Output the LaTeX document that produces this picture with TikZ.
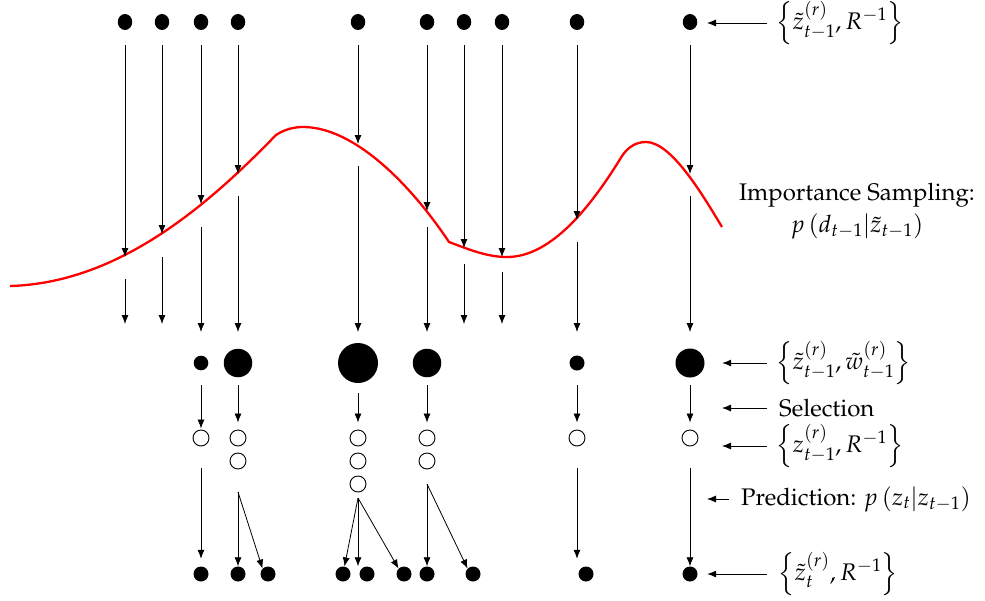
\documentclass[tikz,border=0pt]{standalone}
\usepackage[T1]{fontenc}
\usepackage{mathpazo}
\usetikzlibrary{arrows.meta,shapes.geometric}
\begin{document}
\begin{tikzpicture}[x=1pt,y=-1pt,
  every node/.style={font=\fontsize{24}{29}\selectfont},
  tdot/.style={ellipse,fill=black,inner sep=0pt,minimum width=14.5pt,minimum height=16pt},
  dot/.style={circle,fill=black,inner sep=0pt,minimum size=#1},
  dot/.default=15pt,
  odot/.style={circle,draw=black,line width=0.9pt,fill=white,inner sep=0pt,minimum size=16pt},
  arr/.style={-{Latex[length=9pt,width=7pt]},line width=0.8pt},
  lbl/.style={anchor=west,inner sep=0pt},
  pdf/.style={red,line width=2.3pt,line join=round}
]
\useasboundingbox (0,0) rectangle (985,600);

% red likelihood curve
\draw[pdf] (10,286) .. controls (120,283) and (210,203) .. (276,135)
  .. controls (285,129) and (295,127) .. (303,127)
  .. controls (353,127) and (409,182) .. (449,242)
  .. controls (469,249.5) and (487,257) .. (507,257)
  .. controls (552,257) and (592,205) .. (622,156)
  .. controls (628,147) and (636,142) .. (646,142)
  .. controls (671,142) and (702,193.6) .. (722,227);

% top particles
\foreach \i/\x in {1/125,2/162,3/201,4/238,5/358,6/427,7/464,8/502,9/577,10/690}
  \node[tdot] (t\i) at (\x,22) {};

% arrow end points on / below the curve
\foreach \i/\x/\cy/\uy/\ey in {1/125/257/279/324, 2/162/234/257/324, 3/201/204/227/332, 4/238/174/196/332,
  5/358/144/166/332, 6/427/211/227/332, 7/464/248/264/324, 8/502/257/272/324, 9/577/220/242/332, 10/690/174/196/332}{
  \coordinate (c\i) at (\x,\cy);
  \coordinate (u\i) at (\x,\uy);
  \coordinate (e\i) at (\x,\ey);
  \draw[arr,shorten <=15pt] (t\i) -- (c\i);
  \draw[arr] (u\i) -- (e\i);
}

% weighted particles
\node[dot=14.6pt] (m3) at (201,363) {};
\node[dot=28.5pt] (m4) at (238,363) {};
\node[dot=40pt] (m5) at (358,363) {};
\node[dot=28.5pt] (m6) at (427,363) {};
\node[dot=15pt] (m9) at (577,363) {};
\node[dot=29pt] (m10) at (690,363) {};

% selected particles
\node[odot] (o3a) at (201,438) {};
\node[odot] (o4a) at (238,438) {};
\node[odot] (o4b) at (238,461) {};
\node[odot] (o5a) at (358,438) {};
\node[odot] (o5b) at (358,461) {};
\node[odot] (o5c) at (358,484) {};
\node[odot] (o6a) at (427,438) {};
\node[odot] (o6b) at (427,461) {};
\node[odot] (o9a) at (577,438) {};
\node[odot] (o10a) at (690,438) {};

\draw[arr,shorten <=14.7pt,shorten >=1pt] (m3) -- (o3a);
\draw[arr,shorten <=8pt,shorten >=7pt] (m4) -- (o4a);
\draw[arr,shorten <=10pt,shorten >=7pt] (m5) -- (o5a);
\draw[arr,shorten <=8pt,shorten >=7pt] (m6) -- (o6a);
\draw[arr,shorten <=14.5pt,shorten >=7pt] (m9) -- (o9a);
\draw[arr,shorten <=7.5pt,shorten >=7pt] (m10) -- (o10a);

% predicted particles
\foreach \n/\x in {b3a/201,b4a/238,b4b/268,b5a/343,b5b/367,b5c/404,b6a/427,b6b/473,b9a/586,b10a/690}
  \node[dot] (\n) at (\x,574) {};

\coordinate (s4) at (238,492);
\coordinate (s5) at (358,498);
\coordinate (s6) at (427,484);

\draw[arr,shorten <=22pt,shorten >=7.5pt] (o3a) -- (b3a);
\draw[arr] (s4) -- (b4a);
\draw[arr] (s4) -- (b4b.north west);
\draw[arr] (s5) -- (b5a);
\draw[arr] (s5) -- (s5 |- b5b.north);
\draw[arr] (s5) -- (b5c.north west);
\draw[arr] (s6) -- (b6a);
\draw[arr] (s6) -- (b6b.north west);
\draw[arr,shorten <=22pt,shorten >=7.5pt] (o9a) -- (o9a |- b9a.north);
\draw[arr,shorten <=22pt] (o10a) -- (b10a);

% right-hand labels
\node[lbl] (L1) at (776,23) {$\left\{\tilde{z}_{t-1}^{(r)},R^{-1}\right\}$};
\node[lbl] (L2) at (776,363) {$\left\{\tilde{z}_{t-1}^{(r)},\tilde{w}_{t-1}^{(r)}\right\}$};
\node[lbl] (L3) at (779,408) {Selection};
\node[lbl] (L4) at (776,446) {$\left\{z_{t-1}^{(r)},R^{-1}\right\}$};
\node[lbl] (L5) at (741,499) {Prediction: $p\left(z_t|z_{t-1}\right)$};
\node[lbl] (L6) at (778,574) {$\left\{\tilde{z}_{t}^{(r)},R^{-1}\right\}$};
\node[align=center] (IS) at (857,211) {Importance Sampling:\\[3pt] $p\left(d_{t-1}|\tilde{z}_{t-1}\right)$};

\coordinate (selT) at (722,408);
\coordinate (zT) at (722,446);
\coordinate (predT) at (707,499);

\draw[arr,shorten <=9pt,shorten >=17pt] (L1.west) -- (L1.west -| t10);
\draw[arr,shorten <=9pt,shorten >=17.5pt] (L2.west) -- (m10);
\draw[arr,shorten <=12pt] (L3.west) -- (selT);
\draw[arr,shorten <=9pt] (L4.west) -- (zT);
\draw[arr,shorten <=12pt] (L5.west) -- (predT);
\draw[arr,shorten <=11pt,shorten >=9.5pt] (L6.west) -- (b10a);
\end{tikzpicture}
\end{document}
